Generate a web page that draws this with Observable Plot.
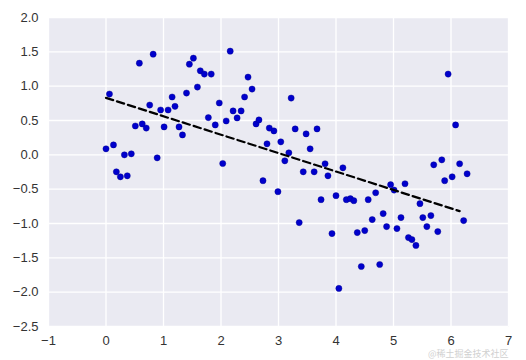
<!DOCTYPE html>
<html>
<head>
<meta charset="utf-8">
<script src="https://cdn.jsdelivr.net/npm/d3@7"></script>
<script src="https://cdn.jsdelivr.net/npm/@observablehq/plot@0.6"></script>
<style>
  html, body { margin: 0; padding: 0; background: #fff; }
  #chart { position: relative; width: 526px; height: 360px; }
  #wm { position: absolute; left: 428px; top: 348px; font-family: 'Noto Sans CJK SC', sans-serif; font-size: 9px; line-height: 11px; color: #d0d0d0; white-space: nowrap; }
</style>
</head>
<body>
<div id="chart"><div id="wm">@稀土掘金技术社区</div></div>
<script>
const xs = [0.00,0.06,0.13,0.18,0.25,0.32,0.37,0.44,0.51,0.58,
            0.63,0.70,0.76,0.82,0.89,0.95,1.01,1.08,1.15,1.20,
            1.27,1.33,1.40,1.45,1.52,1.59,1.64,1.71,1.78,1.83,
            1.90,1.97,2.03,2.09,2.16,2.21,2.28,2.35,2.41,2.47,
            2.54,2.61,2.66,2.73,2.80,2.84,2.92,2.99,3.04,3.11,
            3.18,3.22,3.29,3.36,3.43,3.48,3.55,3.62,3.67,3.74,
            3.81,3.86,3.93,4.00,4.05,4.12,4.18,4.25,4.31,4.37,
            4.44,4.50,4.56,4.63,4.69,4.76,4.82,4.88,4.95,5.01,
            5.06,5.13,5.20,5.26,5.32,5.39,5.46,5.51,5.58,5.65,
            5.70,5.77,5.84,5.89,5.95,6.02,6.08,6.15,6.22,6.28];
const ys = [0.087,0.885,0.145,-0.247,-0.320,0.000,-0.305,0.015,0.420,1.335,
            0.450,0.390,0.725,1.466,-0.044,0.653,0.406,0.653,0.842,0.706,
            0.406,0.290,0.900,1.320,1.408,0.987,1.224,1.176,0.542,1.176,
            0.435,0.755,-0.126,0.493,1.510,0.639,0.537,0.639,0.842,1.132,
            0.958,0.450,0.508,-0.377,0.160,0.390,0.348,-0.537,0.189,-0.087,
            0.029,0.827,0.377,-0.987,-0.247,0.305,0.087,-0.247,0.377,-0.653,
            -0.130,-0.305,-1.147,-0.595,-1.945,-0.189,-0.653,-0.639,-0.668,-1.132,
            -1.626,-1.103,-0.653,-0.943,-0.552,-1.597,-0.856,-1.045,-0.435,-0.513,
            -1.074,-0.914,-0.421,-1.205,-1.234,-1.320,-0.711,-0.914,-1.045,-0.885,
            -0.145,-1.118,-0.073,-0.377,1.176,-0.320,0.435,-0.130,-0.958,-0.276];
const fitX = [0, 6.15];
const fitY = [0.83, -0.82];
const xTicks = [-1, 0, 1, 2, 3, 4, 5, 6, 7];
const yTicks = [-2.5, -2.0, -1.5, -1.0, -0.5, 0.0, 0.5, 1.0, 1.5, 2.0];

const points = xs.map((x, i) => ({x, y: ys[i]}));
const fit = fitX.map((x, i) => ({x, y: fitY[i]}));

const chart = Plot.plot({
  width: 526,
  height: 360,
  marginLeft: 48,
  marginRight: 18,
  marginTop: 17,
  marginBottom: 34,
  style: {
    fontFamily: "'Liberation Sans', Arial, sans-serif",
    fontSize: "13px",
    color: "#333333",
    background: "#ffffff",
    overflow: "visible"
  },
  x: {domain: [-1, 7], ticks: xTicks, tickFormat: d3.format("d"), label: null, tickSize: 0, tickPadding: 9},
  y: {domain: [-2.5, 2.0], ticks: yTicks, tickFormat: d3.format(".1f"), label: null, tickSize: 0, tickPadding: 10},
  marks: [
    Plot.frame({fill: "#EAEAF2", stroke: null}),
    Plot.gridX(xTicks, {stroke: "#ffffff", strokeOpacity: 1, strokeWidth: 1.3}),
    Plot.gridY(yTicks, {stroke: "#ffffff", strokeOpacity: 1, strokeWidth: 1.3}),
    Plot.dot(points, {x: "x", y: "y", r: 3.1, fill: "#0000CC", stroke: "#00008B", strokeWidth: 0.4}),
    Plot.line(fit, {x: "x", y: "y", stroke: "#000000", strokeWidth: 2.2, strokeDasharray: "7.5,4"})
  ]
});
document.getElementById("chart").insertBefore(chart, document.getElementById("wm"));
</script>
</body>
</html>
